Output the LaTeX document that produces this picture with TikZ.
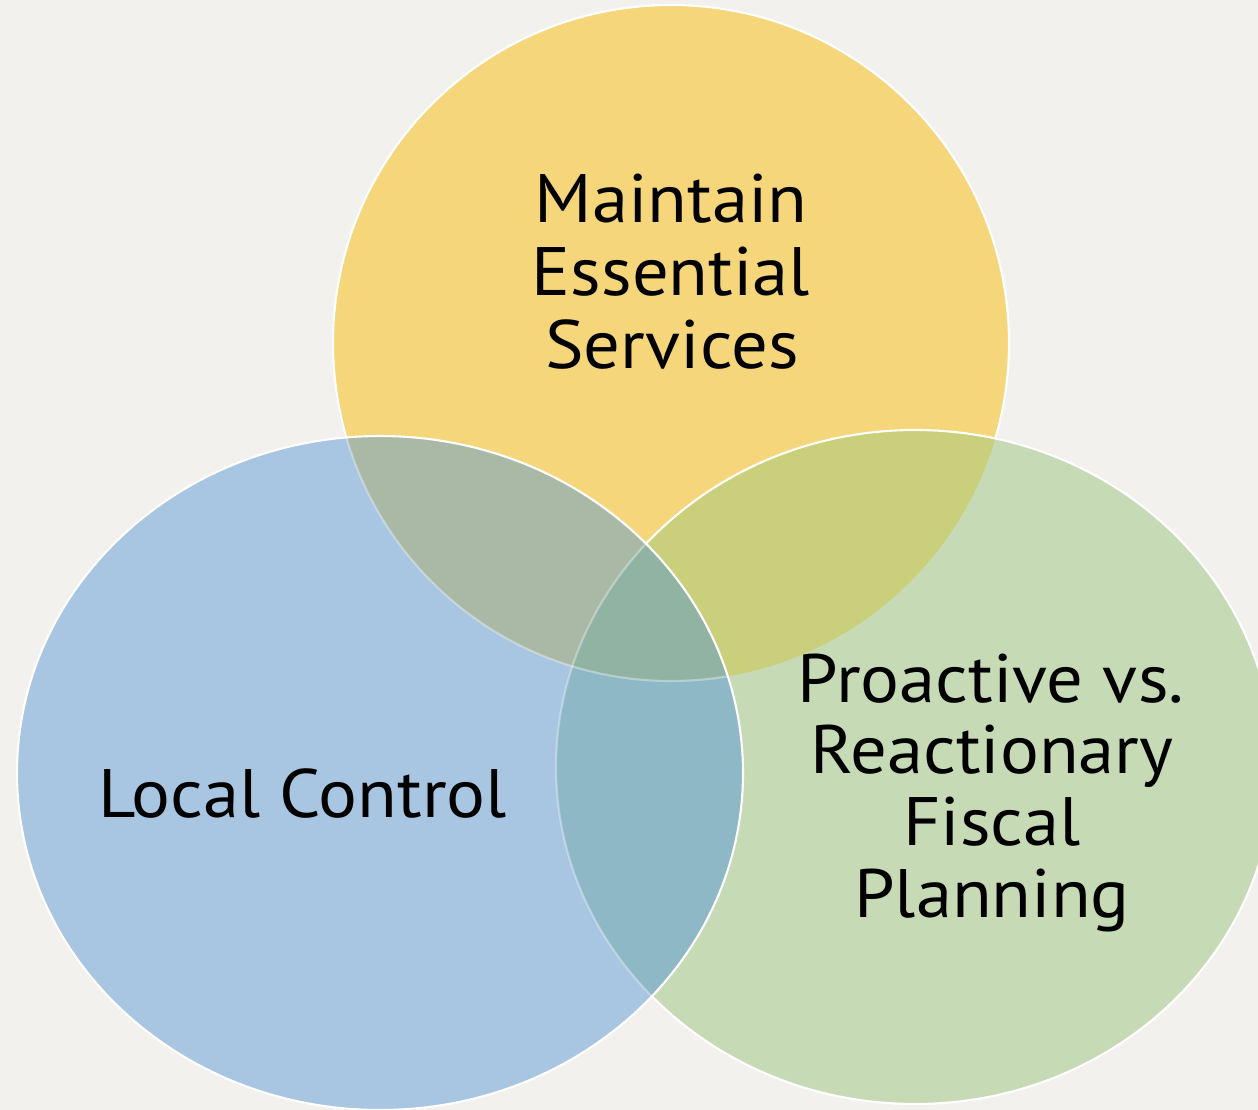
\documentclass[tikz,border=0pt]{standalone}
\usepackage{fontspec}
\setmainfont{PT Sans}[FakeStretch=1.06]
\definecolor{bgc}{HTML}{F2F1EE}
\definecolor{yel}{HTML}{F6D67A}
\definecolor{blu}{HTML}{A8C5E1}
\definecolor{gre}{HTML}{C7DAB6}
\definecolor{yb}{HTML}{AAB9A6}
\definecolor{yg}{HTML}{CACF7B}
\definecolor{bg}{HTML}{8FB8C6}
\definecolor{ybg}{HTML}{90B3A4}
\tikzset{
  lbl/.style={anchor=base, inner sep=0pt, font=\fontsize{39}{43}\selectfont},
  edge/.style={draw=white, line width=1.2pt},
  faint/.style={draw=white, draw opacity=0.35, line width=1.2pt}
}
\begin{document}
\begin{tikzpicture}[x=1cm,y=1cm]
\def\ycirc{(13.42,-6.86) circle [radius=6.76]}
\def\bell{(7.6,-15.46) ellipse [x radius=7.26, y radius=6.74]}
\def\gell{(18.3,-15.34) ellipse [x radius=7.18, y radius=6.74]}
\fill[bgc] (0,0) rectangle (25.16,-22.2);
\useasboundingbox (0,0) rectangle (25.16,-22.2);
% yellow
\fill[yel] \ycirc;
\draw[edge] \ycirc;
% green
\fill[gre] \gell;
\begin{scope}
  \clip \gell;
  \fill[yg] \ycirc;
\end{scope}
\draw[edge] \gell;
% blue
\fill[blu] \bell;
\begin{scope}
  \clip \bell;
  \fill[yb] \ycirc;
  \fill[bg] \gell;
  \begin{scope}
    \clip \gell;
    \fill[ybg] \ycirc;
  \end{scope}
  \draw[faint] \ycirc;
  \draw[faint] \gell;
\end{scope}
\draw[edge] \bell;
% labels
\node[lbl] (m1) at (13.42,-4.44) {Maintain};
\node[lbl] (m2) at (13.42,-5.90) {Essential};
\node[lbl] (m3) at (13.44,-7.36) {Services};
\node[lbl] (l1) at (6.05,-16.34) {Local Control};
\node[lbl] (p1) at (19.82,-14.04) {Proactive vs.};
\node[lbl] (p2) at (19.84,-15.46) {Reactionary};
\node[lbl] (p3) at (19.84,-16.90) {Fiscal};
\node[lbl] (p4) at (19.84,-18.34) {Planning};
\end{tikzpicture}
\end{document}
